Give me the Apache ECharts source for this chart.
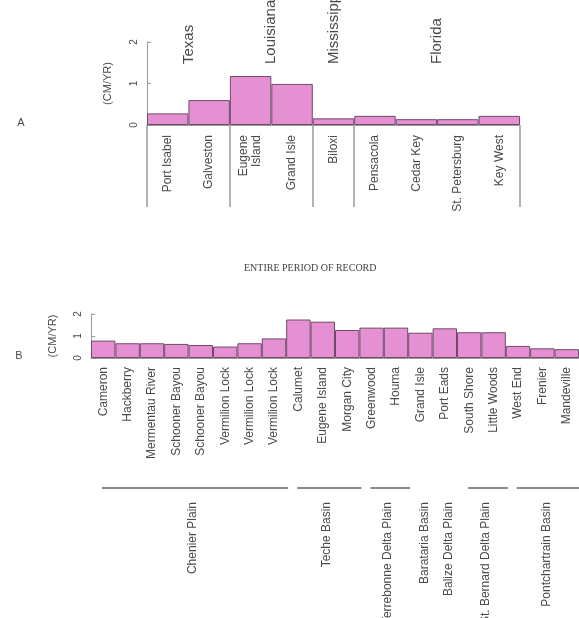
<!DOCTYPE html>
<html>
<head>
<meta charset="utf-8">
<script src="https://cdn.jsdelivr.net/npm/echarts@6/dist/echarts.min.js"></script>
<style>
  html, body { margin: 0; padding: 0; background: #ffffff; }
  #chart { width: 579px; height: 618px; }
</style>
</head>
<body>
<div id="chart"></div>
<script>
// Panel A: long-term rates at Gulf of Mexico tide gauges, grouped by state
const stationsA = ['Port Isabel', 'Galveston', 'Eugene\nIsland', 'Grand Isle', 'Biloxi',
                   'Pensacola', 'Cedar Key', 'St. Petersburg', 'Key West'];
const ratesA = [0.28, 0.60, 1.18, 0.99, 0.16, 0.22, 0.14, 0.14, 0.22];
const stateNames = ['Texas', 'Louisiana', 'Mississippi', 'Florida'];
const stateFirst = [0, 2, 4, 5];
const stateLast = [1, 3, 4, 8];

// Panel B: Louisiana gauges over the entire period of record, grouped by basin
const stationsB = ['Cameron', 'Hackberry', 'Mermentau River', 'Schooner Bayou', 'Schooner Bayou',
                   'Vermilion Lock', 'Vermilion Lock', 'Vermilion Lock', 'Calumet', 'Eugene Island',
                   'Morgan City', 'Greenwood', 'Houma', 'Grand Isle', 'Port Eads',
                   'South Shore', 'Little Woods', 'West End', 'Frenier', 'Mandeville'];
const ratesB = [0.79, 0.67, 0.67, 0.64, 0.59, 0.52, 0.67, 0.89, 1.75, 1.65,
                1.27, 1.38, 1.38, 1.15, 1.35, 1.17, 1.17, 0.55, 0.44, 0.40];
const basinNames = ['Chenier Plain', 'Teche Basin', 'Terrebonne Delta Plain', 'Barataria Basin',
                    'Balize Delta Plain', 'St. Bernard Delta Plain', 'Pontchartrain Basin'];
const basinFirst = [0, 8, 11, 13, 14, 15, 17];
const basinLast = [7, 10, 12, 13, 14, 16, 19];

const rateTicks = [0, 1, 2];
const unitLabel = '(CM/YR)';

const INK = '#4a4a4a';
const RULE = '#9a9a9a';
const BAR = '#e690d4';
const BAR_EDGE = '#6e4a68';
const SANS = '"Liberation Sans", Arial, sans-serif';

const chart = echarts.init(document.getElementById('chart'), null, { renderer: 'canvas' });

function rateAxis(gridIndex, gap) {
  return {
    type: 'value', gridIndex: gridIndex,
    min: rateTicks[0], max: rateTicks[rateTicks.length - 1], interval: 1,
    name: unitLabel, nameLocation: 'middle', nameRotate: 90, nameGap: gap,
    nameTextStyle: { color: INK, fontSize: 11, fontFamily: SANS },
    axisLine: { show: true, lineStyle: { color: RULE, width: 1 } },
    axisTick: { show: true, inside: true, length: 4, lineStyle: { color: RULE } },
    axisLabel: { rotate: 90, margin: 8, color: INK, fontSize: 10, fontFamily: SANS },
    splitLine: { show: false }
  };
}

const option = {
  animation: false,
  backgroundColor: '#ffffff',
  title: {
    text: 'ENTIRE PERIOD OF RECORD',
    left: 239, top: 258,
    textStyle: { fontFamily: '"Liberation Serif", "Times New Roman", serif', fontSize: 10,
                 fontWeight: 'normal', color: '#444' }
  },
  grid: [
    { left: 147, right: 59, top: 42, height: 83 },
    { left: 91, right: -4, top: 314, height: 44 }
  ],
  xAxis: [
    {
      type: 'category', gridIndex: 0, data: stationsA, boundaryGap: true,
      axisLine: { show: true, lineStyle: { color: RULE } },
      // long rules that separate the states below the axis
      axisTick: {
        show: true, alignWithLabel: false, length: 82,
        interval: function (index) { return stateFirst.indexOf(index) !== -1; },
        lineStyle: { color: RULE, width: 1.5 }
      },
      axisLabel: { interval: 0, rotate: 90, margin: 10, color: INK, fontSize: 12,
                   lineHeight: 13, fontFamily: SANS }
    },
    {
      type: 'category', gridIndex: 1, data: stationsB, boundaryGap: true,
      axisLine: { show: true, lineStyle: { color: RULE } },
      axisTick: { show: false },
      axisLabel: { interval: 0, rotate: 90, margin: 9, color: INK, fontSize: 12, fontFamily: SANS }
    }
  ],
  yAxis: [rateAxis(0, 34), rateAxis(1, 33)],
  series: [
    {
      type: 'bar', xAxisIndex: 0, yAxisIndex: 0, data: ratesA, barCategoryGap: 0,
      itemStyle: { color: BAR, borderColor: BAR_EDGE, borderWidth: 1 }
    },
    {
      type: 'bar', xAxisIndex: 1, yAxisIndex: 1, data: ratesB, barCategoryGap: 0,
      itemStyle: { color: BAR, borderColor: BAR_EDGE, borderWidth: 1 }
    }
  ]
};
chart.setOption(option);

// Band edges of a category axis, from the axis' own scale
function bandEdges(axisIndex, first, last) {
  const c0 = chart.convertToPixel({ xAxisIndex: axisIndex }, 0);
  const c1 = chart.convertToPixel({ xAxisIndex: axisIndex }, 1);
  const half = (c1 - c0) / 2;
  return [chart.convertToPixel({ xAxisIndex: axisIndex }, first) - half,
          chart.convertToPixel({ xAxisIndex: axisIndex }, last) + half];
}

const elements = [];

// panel letters
elements.push({ type: 'text', x: 21, y: 123,
  style: { text: 'A', fill: INK, font: '11px ' + SANS, align: 'center', verticalAlign: 'middle' } });
elements.push({ type: 'text', x: 19, y: 356,
  style: { text: 'B', fill: INK, font: '11px ' + SANS, align: 'center', verticalAlign: 'middle' } });

// state names above panel A
stateNames.forEach(function (name, i) {
  const e = bandEdges(0, stateFirst[i], stateLast[i]);
  elements.push({ type: 'text', x: (e[0] + e[1]) / 2, y: 64, rotation: Math.PI / 2,
    style: { text: name, fill: INK, font: '15px ' + SANS, align: 'left', verticalAlign: 'middle' } });
});

// basin brackets and names below panel B
basinNames.forEach(function (name, i) {
  const e = bandEdges(1, basinFirst[i], basinLast[i]);
  if (basinLast[i] > basinFirst[i]) {
    elements.push({ type: 'line', shape: { x1: e[0] + 11, y1: 488, x2: e[1] + 2, y2: 488 },
      style: { stroke: '#8a8a8a', lineWidth: 2 } });
  }
  elements.push({ type: 'text', x: (e[0] + e[1]) / 2 + 4, y: 502, rotation: Math.PI / 2,
    style: { text: name, fill: INK, font: '12px ' + SANS, align: 'right', verticalAlign: 'middle' } });
});

chart.setOption({ graphic: { elements: elements } });
</script>
</body>
</html>
